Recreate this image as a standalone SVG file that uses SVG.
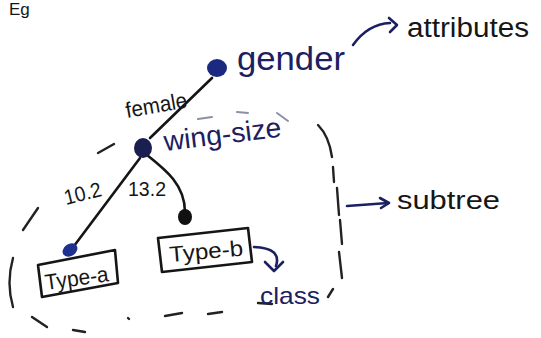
<svg xmlns="http://www.w3.org/2000/svg" width="541" height="338" viewBox="0 0 541 338">
  <style>
    .ink { font-family: "Liberation Sans", "DejaVu Sans", sans-serif; fill: #1c2060; }
    .dk { font-family: "Liberation Sans", "DejaVu Sans", sans-serif; fill: #161616; }
    .edge { fill: none; stroke: #151515; stroke-width: 2.6; stroke-linecap: round; stroke-linejoin: round; }
    .note { fill: none; stroke: #1c2060; stroke-width: 2.6; stroke-linecap: round; stroke-linejoin: round; }
    .dash { fill: none; stroke: #222; stroke-width: 2.4; stroke-linecap: round; }
    .faint { fill: none; stroke: #8a90a8; stroke-width: 2; stroke-linecap: round; }
    .box { fill: none; stroke: #151515; stroke-width: 2.6; stroke-linejoin: round; }
  </style>
  <rect width="541" height="338" fill="#ffffff"/>

  <!-- heading -->
  <text class="dk" x="9" y="15" font-size="17">Eg</text>

  <!-- dashed boundary round the subtree -->
  <g id="subtree-boundary">
    <path class="dash" d="M98,153 L114,144"/>
    <path class="faint" d="M198,119 L212,117 M237,112 L248,113 M277,113 L288,121"/>
    <path class="dash" d="M318,125 Q329,136 332,157"/>
    <path class="dash" d="M333,167 L334,182 M337,188 L339,215 M340,220 L342,244 M339,252 L342,278 M333,289 L328,297"/>
    <path class="dash" d="M258,303 L272,304"/>
    <path class="dash" d="M222,312 L208,314 M182,313 L165,316 M128,318 L129,319 M85,332 L73,330 M47,327 L32,317"/>
    <path class="dash" d="M13,258 Q6,283 13,307"/>
    <path class="dash" d="M23,230 L38,208"/>
  </g>

  <!-- tree edges -->
  <g id="connectors">
    <path class="edge" d="M212,78 L150,138"/>
    <path class="edge" d="M140,158 L74,246"/>
    <path class="edge" d="M147,155 C166,170 185,185 185,212"/>
    <!-- annotation arrows -->
    <path class="note" d="M353,45 Q368,24 390,23"/>
    <path class="note" d="M389,18 L397,25 L390,32"/>
    <path class="note" d="M347,206 L388,203"/>
    <path class="note" d="M380,198 L389,203 L381,208"/>
    <path class="note" d="M254,247 Q282,248 276,266"/>
    <path class="note" d="M265,262 L274,271 L283,262"/>
  </g>

  <g id="gender">
    <ellipse cx="217" cy="68" rx="10" ry="9" fill="#1b2a80"/>
    <text class="ink" x="237" y="70" font-size="33" textLength="108" lengthAdjust="spacingAndGlyphs">gender</text>
  </g>

  <g id="wing-size">
    <ellipse cx="143" cy="148" rx="9" ry="10" fill="#1a1f4f"/>
    <text class="ink" x="165" y="151" font-size="28" textLength="118" lengthAdjust="spacingAndGlyphs" transform="rotate(-7 165 151)">wing-size</text>
  </g>

  <g id="type-a">
    <ellipse cx="70" cy="250" rx="8" ry="6" fill="#1e3090" transform="rotate(-35 70 250)"/>
    <polygon class="box" points="38,265 115,250 118,283 42,297"/>
    <text class="dk" x="46" y="290" font-size="22" textLength="64" lengthAdjust="spacingAndGlyphs" transform="rotate(-8 46 290)">Type-a</text>
  </g>

  <g id="type-b">
    <ellipse cx="185" cy="217" rx="7" ry="8" fill="#111"/>
    <polygon class="box" points="158,238 248,228 252,262 162,272"/>
    <text class="dk" x="170" y="262" font-size="22" textLength="74" lengthAdjust="spacingAndGlyphs" transform="rotate(-5 170 262)">Type-b</text>
  </g>

  <!-- edge labels -->
  <g id="edge-labels">
    <text class="dk" x="127" y="118" font-size="22" textLength="62" lengthAdjust="spacingAndGlyphs" transform="rotate(-10 127 118)">female</text>
    <text class="dk" x="66" y="205" font-size="21" textLength="38" lengthAdjust="spacingAndGlyphs" transform="rotate(-14 66 205)">10.2</text>
    <text class="dk" x="128" y="196" font-size="20" textLength="38" lengthAdjust="spacingAndGlyphs">13.2</text>
  </g>

  <!-- annotations -->
  <g id="attributes">
    <text class="dk" x="407" y="37" font-size="27" textLength="122" lengthAdjust="spacingAndGlyphs">attributes</text>
  </g>
  <g id="subtree">
    <text class="dk" x="397" y="209" font-size="26" textLength="103" lengthAdjust="spacingAndGlyphs">subtree</text>
  </g>
  <g id="class">
    <text class="ink" x="260" y="304" font-size="24" textLength="60" lengthAdjust="spacingAndGlyphs">class</text>
  </g>
</svg>
